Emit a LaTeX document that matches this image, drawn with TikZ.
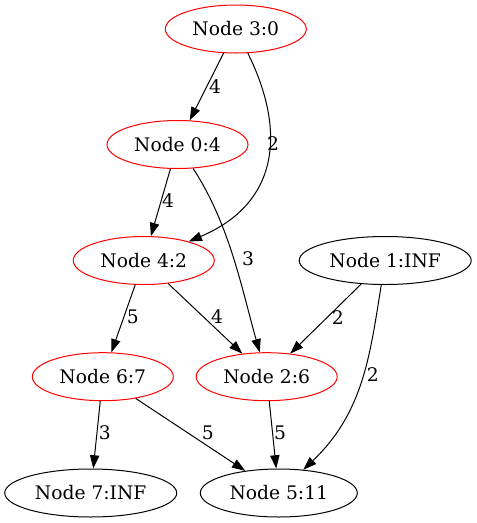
\documentclass[tikz,border=0pt]{standalone}
\usepackage{fontspec}
\setmainfont{DejaVu Serif}
\usetikzlibrary{shapes.geometric,arrows.meta}
\begin{document}
\begin{tikzpicture}[x=1pt,y=-1pt,
  every node/.style={font=\fontsize{18.7}{22}\selectfont},
  vert/.style={ellipse,draw,line width=1pt,inner sep=0pt,minimum height=48pt},
  visited/.style={vert,draw=red},
  unvisited/.style={vert,draw=black},
  short/.style={minimum width=141pt},
  wide/.style={minimum width=172pt},
  edge/.style={draw=black,line width=1pt,-{Triangle[length=13.3pt,width=9.3pt]}},
  wlabel/.style={inner sep=0pt}]
\useasboundingbox (0,0) rectangle (477,523);

% vertices with their distances
\node[visited,short]   (n3) at (235.8,29)    {Node 3:0};
\node[visited,short]   (n0) at (177.5,144.5) {Node 0:4};
\node[visited,short]   (n4) at (143.8,260.5) {Node 4:2};
\node[unvisited,wide]  (n1) at (385.2,260.5) {Node 1:INF};
\node[visited,short]   (n6) at (102.8,376.7) {Node 6:7};
\node[visited,short]   (n2) at (266.7,376.7) {Node 2:6};
\node[unvisited,wide]  (n7) at (90.7,493)    {Node 7:INF};
\node[unvisited,minimum width=157pt] (n5) at (278.8,493) {Node 5:11};

% weighted edges
\draw[edge] (n3) -- (n0);
\draw[edge] (n3) .. controls (286,130) and (280,202.9) .. (n4);
\draw[edge] (n0) -- (n4);
\draw[edge] (n0) .. controls (230,225) and (242,290) .. (n2);
\draw[edge] (n4) -- (n6);
\draw[edge] (n4) -- (n2);
\draw[edge] (n1) -- (n2);
\draw[edge] (n1) .. controls (370,355) and (363.5,412.5) .. (n5);
\draw[edge] (n6) -- (n7);
\draw[edge] (n6) -- (n5);
\draw[edge] (n2) -- (n5);

% edge weights
\node[wlabel] (w30) at (215,86.7)  {4};
\node[wlabel] (w34) at (273,144)   {2};
\node[wlabel] (w04) at (168,201)   {4};
\node[wlabel] (w02) at (248,259)   {3};
\node[wlabel] (w46) at (132.7,317) {5};
\node[wlabel] (w42) at (217,317)   {4};
\node[wlabel] (w12) at (337.7,318) {2};
\node[wlabel] (w15) at (372.7,375) {2};
\node[wlabel] (w67) at (104.7,433) {3};
\node[wlabel] (w65) at (207.7,433) {5};
\node[wlabel] (w25) at (280,433)   {5};
\end{tikzpicture}
\end{document}
